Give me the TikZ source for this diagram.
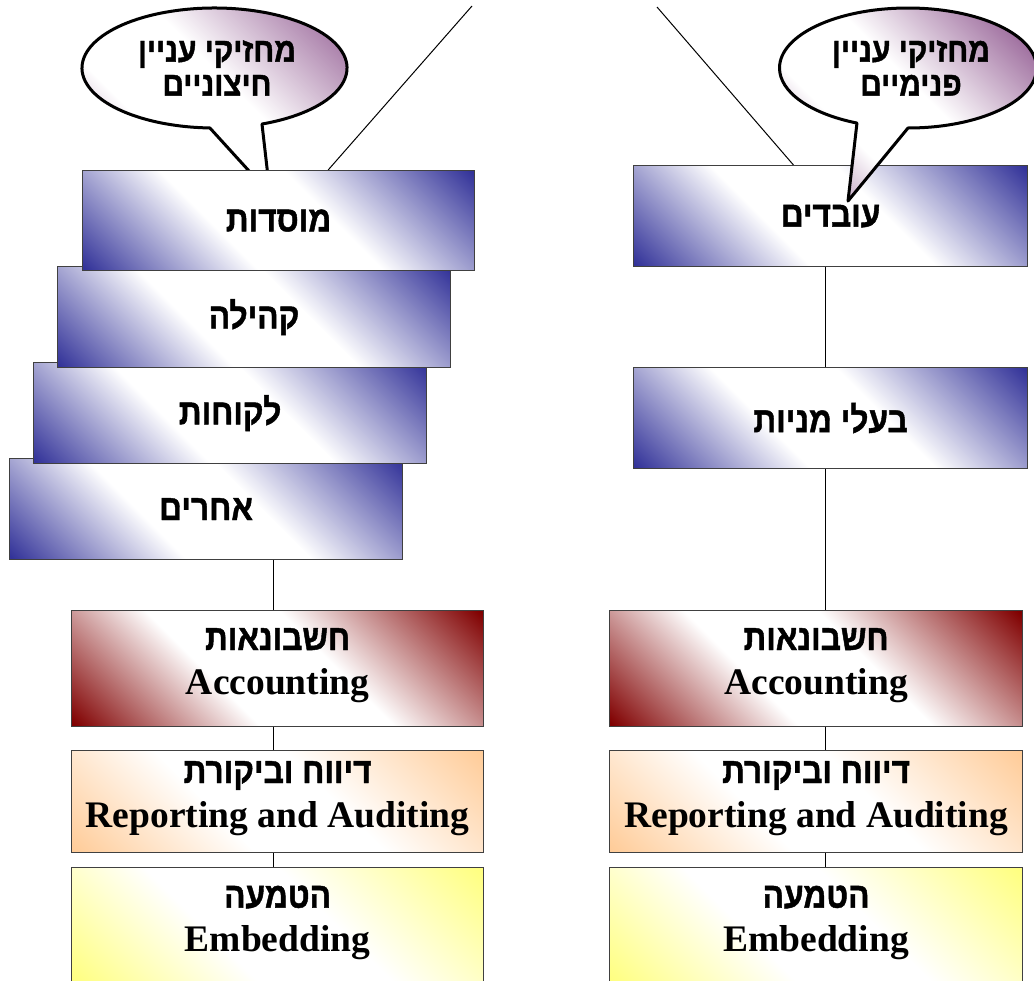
\documentclass[tikz,border=0pt]{standalone}
\usepackage{fontspec}
\setmainfont{Liberation Serif}
\newfontfamily\hebfont[Script=Hebrew, FakeStretch=0.88, BoldFeatures={FakeBold=1.2}]{Liberation Sans}
\TeXXeTstate=1
\usetikzlibrary{calc,backgrounds}

\definecolor{navyband}{RGB}{51,51,153}
\definecolor{redband}{RGB}{128,0,0}
\definecolor{peachband}{RGB}{255,204,153}
\definecolor{yellowband}{RGB}{255,255,128}
\definecolor{bubblepurple}{RGB}{153,102,153}

% two-sided diagonal fades: colour in two opposite corners, white band between
\pgfdeclarehorizontalshading{navyfade}{100bp}{color(0bp)=(navyband); color(15bp)=(navyband); color(40bp)=(white); color(58bp)=(white); color(85bp)=(navyband); color(100bp)=(navyband)}
\pgfdeclarehorizontalshading{redfade}{100bp}{color(0bp)=(redband); color(15bp)=(redband); color(40bp)=(white); color(58bp)=(white); color(85bp)=(redband); color(100bp)=(redband)}
\pgfdeclarehorizontalshading{peachfade}{100bp}{color(0bp)=(peachband); color(15bp)=(peachband); color(40bp)=(white); color(58bp)=(white); color(85bp)=(peachband); color(100bp)=(peachband)}
\pgfdeclarehorizontalshading{yellowfade}{100bp}{color(0bp)=(yellowband); color(15bp)=(yellowband); color(40bp)=(white); color(58bp)=(white); color(85bp)=(yellowband); color(100bp)=(yellowband)}
\pgfdeclarehorizontalshading{bubblefade}{100bp}{color(0bp)=(bubblepurple); color(20bp)=(bubblepurple!80); color(36bp)=(white); color(54bp)=(white); color(80bp)=(bubblepurple); color(100bp)=(bubblepurple)}

\tikzset{
  box/.style={draw=black!75, line width=1.2bp, anchor=north west, inner sep=0pt,
    align=center, shading angle=45},
  groupbox/.style={box, shading=navyfade, minimum width=393bp, minimum height=101bp,
    font=\hebfont\bfseries\fontsize{36bp}{44bp}\selectfont},
  layerbox/.style={box, text depth=15bp, font=\bfseries\fontsize{37.5bp}{44bp}\selectfont},
  accbox/.style={layerbox, shading=redfade, minimum height=116bp},
  repbox/.style={layerbox, shading=peachfade, minimum height=102bp},
  embbox/.style={layerbox, shading=yellowfade, minimum height=117bp},
  bubble/.style={draw=black, line width=3bp, line join=round, shading=bubblefade, shading angle=45},
  bubtext/.style={align=center, inner sep=0pt, font=\hebfont\bfseries\fontsize{34bp}{34bp}\selectfont},
  link/.style={draw=black, line width=1bp},
}
\newcommand\hebline[1]{{\hebfont\fontsize{36bp}{44bp}\selectfont\beginR #1\endR}}

\begin{document}
\begin{tikzpicture}[x=1bp, y=-1bp]
\useasboundingbox (0,0) rectangle (1034,981);

\coordinate (spineL) at (273,0);
\coordinate (spineR) at (825,0);
\coordinate (farL) at (472,6);
\coordinate (farR) at (657,7);
\coordinate (bubL) at (214.5,68);
\coordinate (tipL) at (270,194);
\coordinate (bubR) at (908,68);
\coordinate (tipR) at (848,201);

% external stakeholders callout (its tail runs under the top box)
\draw[bubble] ([shift={(69:132.5 and 60)}]bubL)
  arc[start angle=69, end angle=-268, x radius=132.5, y radius=60] -- (tipL) -- cycle;
\node[bubtext] (bubLlabel) at (217,68) {\beginR מחזיקי עניין\endR\\\beginR חיצוניים\endR};

% external stakeholder groups, stacked (upper boxes lie on top)
\node[groupbox] (oth)  at (9,458)  {\beginR אחרים\endR};
\node[groupbox] (cust) at (33,362) {\beginR לקוחות\endR};
\node[groupbox] (comm) at (57,266) {\beginR קהילה\endR};
\node[groupbox, minimum width=392bp, minimum height=100bp] (inst) at (82,170) {\beginR מוסדות\endR};

% internal stakeholder groups
\node[groupbox, minimum width=394bp] (emp) at (633,165) {\beginR עובדים\endR};
\node[groupbox, minimum width=394bp] (shr) at (633,367) {\beginR בעלי מניות\endR};

% accounting layers, left column
\node[accbox, minimum width=412bp] (accL) at (71,610) {\hebline{חשבונאות}\\Accounting};
\node[repbox, minimum width=412bp] (repL) at (71,750) {\hebline{דיווח וביקורת}\\Reporting and Auditing};
\node[embbox, minimum width=412bp] (embL) at (71,867) {\hebline{הטמעה}\\Embedding};

% accounting layers, right column
\node[accbox, minimum width=413bp] (accR) at (609,610) {\hebline{חשבונאות}\\Accounting};
\node[repbox, minimum width=413bp] (repR) at (609,750) {\hebline{דיווח וביקורת}\\Reporting and Auditing};
\node[embbox, minimum width=413bp] (embR) at (609,867) {\hebline{הטמעה}\\Embedding};

% internal stakeholders callout (its tail lies over the box)
\draw[bubble] ([shift={(90:128.5 and 60)}]bubR)
  arc[start angle=90, end angle=-246.6, x radius=128.5, y radius=60] -- (tipR) -- cycle;
\node[bubtext] (bubRlabel) at (911,68) {\beginR מחזיקי עניין\endR\\\beginR פנימיים\endR};

\begin{scope}[on background layer]
  \draw[link] (oth.south -| spineL) -- (accL.north -| spineL);
  \draw[link] (accL.south -| spineL) -- (repL.north -| spineL);
  \draw[link] (repL.south -| spineL) -- (embL.north -| spineL);
  \draw[link] (emp.south -| spineR) -- (shr.north -| spineR);
  \draw[link] (shr.south -| spineR) -- (accR.north -| spineR);
  \draw[link] (accR.south -| spineR) -- (repR.north -| spineR);
  \draw[link] (repR.south -| spineR) -- (embR.north -| spineR);
  \draw[link] (farL) -- ($(inst.north west)!0.626!(inst.north east)$);
  \draw[link] (farR) -- ($(emp.north west)!0.406!(emp.north east)$);
\end{scope}
\end{tikzpicture}
\end{document}
